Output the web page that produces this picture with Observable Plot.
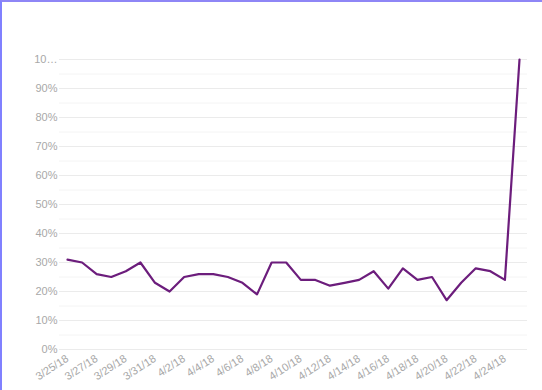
<!DOCTYPE html>
<html>
<head>
<meta charset="utf-8">
<script src="https://cdn.jsdelivr.net/npm/d3@7"></script>
<script src="https://cdn.jsdelivr.net/npm/@observablehq/plot@0.6"></script>
<style>
  html, body { margin: 0; padding: 0; background: #fff; }
  #wrap { position: relative; width: 542px; height: 390px; overflow: hidden; }
  #frame { position: absolute; left: 0; top: 0; width: 540px; height: 388px;
           border-top: 2px solid #8e86f6; border-left: 2px solid #8080ff; pointer-events: none; }
  svg { font-family: "Liberation Sans", Arial, sans-serif; }
</style>
</head>
<body>
<div id="wrap"><div id="chart"></div><div id="frame"></div></div>
<script>
const startDate = "2018-03-25";
const values = [31,30,26,25,27,30,23,20,25,26,26,25,23,19,30,30,24,24,22,23,24,27,21,28,24,25,17,23,28,27,24,100];
const yTicks = [0,10,20,30,40,50,60,70,80,90,100];
const yTickLabels = ["0%","10%","20%","30%","40%","50%","60%","70%","80%","90%","10…"];
const yMinor = [5,15,25,35,45,55,65,75,85,95];

const t0 = new Date(startDate + "T00:00:00Z");
const data = values.map((v, i) => ({date: d3.utcDay.offset(t0, i), value: v}));
const xTicks = data.filter((d, i) => i % 2 === 0 && i < 31).map(d => d.date);
const fmt = d => `${d.getUTCMonth() + 1}/${d.getUTCDate()}/${String(d.getUTCFullYear()).slice(2)}`;

const chart = Plot.plot({
  width: 542,
  height: 390,
  marginLeft: 59,
  marginRight: 15,
  marginTop: 59,
  marginBottom: 41,
  style: {fontFamily: "'Liberation Sans', Arial, sans-serif", fontSize: "11px", color: "#a8a8a8", background: "transparent"},
  x: {type: "utc", domain: [data[0].date, data[data.length - 1].date], insetLeft: 8, insetRight: 8},
  y: {domain: [0, 100]},
  marks: [
    Plot.ruleY(yMinor, {stroke: "#f4f4f4", strokeWidth: 1}),
    Plot.ruleY(yTicks, {stroke: "#ebebeb", strokeWidth: 1}),
    Plot.axisY({ticks: yTicks, tickSize: 0, tickPadding: 2, label: null,
      tickFormat: (d, i) => yTickLabels[yTicks.indexOf(d)], fill: "#a8a8a8", fontSize: 11}),
    Plot.axisX({ticks: xTicks, tickSize: 0, tickPadding: 8, tickRotate: -33, label: null,
      tickFormat: fmt, fill: "#a8a8a8", fontSize: 11}),
    Plot.line(data, {x: "date", y: "value", stroke: "#6c1d7c", strokeWidth: 2.2, curve: "linear"})
  ]
});
document.getElementById("chart").appendChild(chart);
</script>
</body>
</html>
